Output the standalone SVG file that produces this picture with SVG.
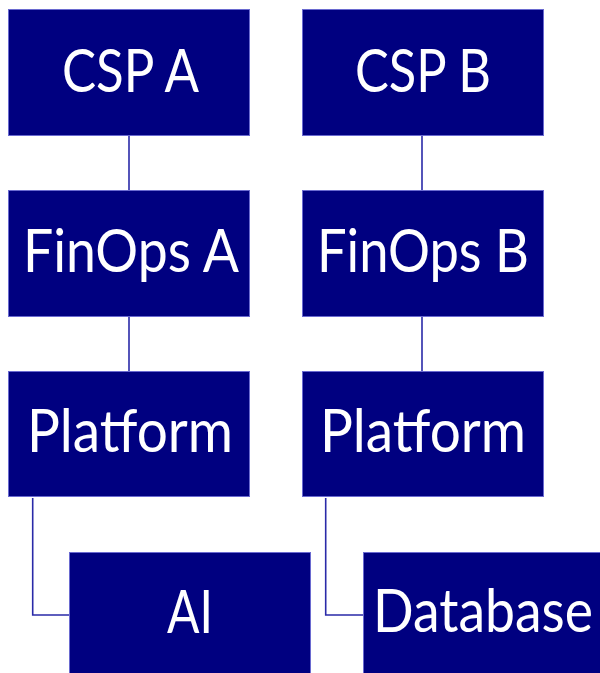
<svg xmlns="http://www.w3.org/2000/svg" width="600" height="673" viewBox="0 0 600 673">
<style>
.box{fill:#000080;stroke:#6a6ad0;stroke-width:1}
.lbl{fill:#ffffff;font-family:Lato,"Open Sans","Liberation Sans",sans-serif;font-size:60px;text-anchor:middle}
.con{fill:none;stroke:#2a2aa8;stroke-width:1.6}
</style>
<rect width="600" height="673" fill="#ffffff"/>
<g id="connectors">
<line class="con" x1="129" y1="136" x2="129" y2="190"/>
<line class="con" x1="129" y1="317" x2="129" y2="371"/>
<line class="con" x1="422" y1="136" x2="422" y2="190"/>
<line class="con" x1="422" y1="317" x2="422" y2="371"/>
<polyline class="con" points="32.7,498 32.7,615 69,615"/>
<polyline class="con" points="325.7,498 325.7,615 363,615"/>
</g>
<g id="cspA"><rect class="box" x="8.5" y="9.5" width="241" height="126"/><text class="lbl" x="130.5" y="92" textLength="137" lengthAdjust="spacingAndGlyphs">CSP A</text></g>
<g id="finopsA"><rect class="box" x="8.5" y="190.5" width="241" height="126"/><text class="lbl" x="131" y="272" textLength="216" lengthAdjust="spacingAndGlyphs">FinOps A</text></g>
<g id="platformA"><rect class="box" x="8.5" y="371.5" width="241" height="125"/><text class="lbl" x="130" y="452" textLength="206" lengthAdjust="spacingAndGlyphs">Platform</text></g>
<g id="cspB"><rect class="box" x="302.5" y="9.5" width="241" height="126"/><text class="lbl" x="423" y="92" textLength="136" lengthAdjust="spacingAndGlyphs">CSP B</text></g>
<g id="finopsB"><rect class="box" x="302.5" y="190.5" width="241" height="126"/><text class="lbl" x="423" y="272" textLength="212" lengthAdjust="spacingAndGlyphs">FinOps B</text></g>
<g id="platformB"><rect class="box" x="302.5" y="371.5" width="241" height="125"/><text class="lbl" x="423" y="452" textLength="206" lengthAdjust="spacingAndGlyphs">Platform</text></g>
<g id="ai"><rect class="box" x="69.5" y="552.5" width="241" height="125"/><text class="lbl" x="190" y="633" textLength="46" lengthAdjust="spacingAndGlyphs">AI</text></g>
<g id="database"><rect class="box" x="363.5" y="552.5" width="241" height="125"/><text class="lbl" x="483" y="632" textLength="220" lengthAdjust="spacingAndGlyphs">Database</text></g>
</svg>
